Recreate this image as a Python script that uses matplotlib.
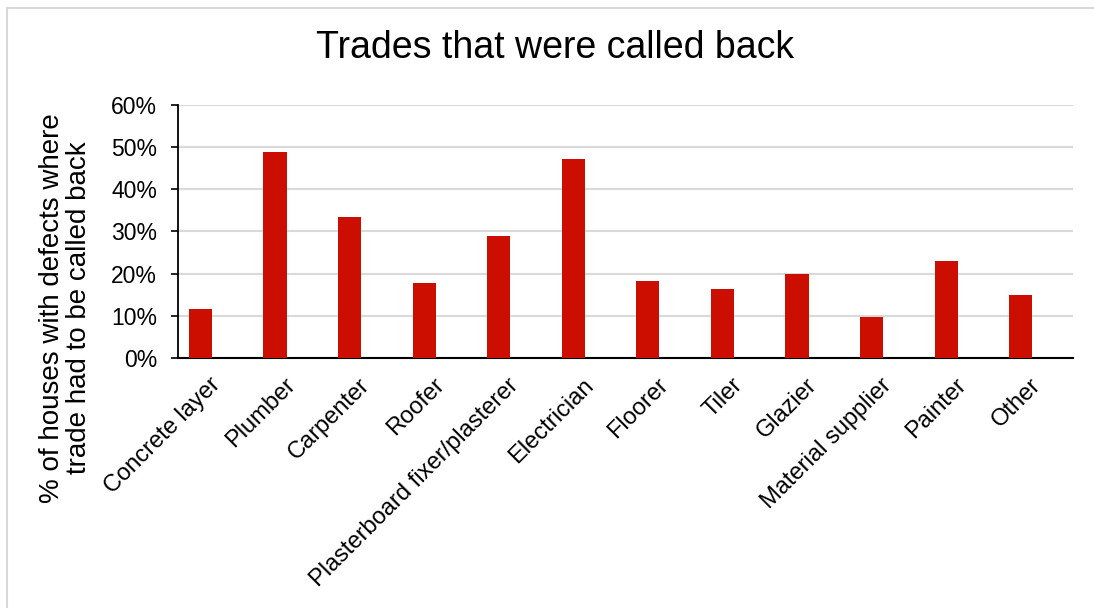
import matplotlib
matplotlib.use("Agg")
import matplotlib.pyplot as plt
import matplotlib.transforms as mtransforms
from matplotlib.patches import Rectangle
from matplotlib.ticker import PercentFormatter

plt.rcParams['font.family'] = ['Liberation Sans', 'DejaVu Sans']

trades = ["Concrete layer", "Plumber", "Carpenter", "Roofer",
          "Plasterboard fixer/plasterer", "Electrician", "Floorer", "Tiler",
          "Glazier", "Material supplier", "Painter", "Other"]
called_back = [11.5, 48.9, 33.3, 17.7, 29.0, 47.1, 18.2, 16.3, 20.0, 9.7, 23.0, 14.9]

W, H = 1094, 608
fig = plt.figure(figsize=(W / 100, H / 100), dpi=100)

# chart-area frame (only top and left edges fall inside the image)
fig.patches.append(Rectangle((7 / W, -0.1), 1.2, 1 - 8 / H + 0.1,
                             transform=fig.transFigure, fill=False,
                             edgecolor="#d9d9d9", linewidth=1.5, zorder=0))

ax = fig.add_axes([178 / W, 1 - 358 / H, 895 / W, (358 - 104.7) / H])

x = list(range(len(trades)))
# bars sit a little left of each category centre
ax.bar([i + 0.3 for i in x], called_back, width=0.31, color="#cc0e00", zorder=3)

ax.set_xlim(0, len(trades))
ax.set_ylim(0, 60)
ax.set_yticks(range(0, 61, 10))
ax.yaxis.set_major_formatter(PercentFormatter(decimals=0))
ax.set_xticks([i + 0.5 for i in x])
ax.set_xticklabels(trades, rotation=45, ha="right", va="top",
                   rotation_mode="anchor", fontsize=17)
ax.tick_params(axis="x", length=0, pad=13)
ax.tick_params(axis="y", length=5, width=1.2, pad=10, labelsize=16.5)

# nudge the slanted labels so their ends line up under the categories
shift = mtransforms.ScaledTranslation(-6 / 100, 2 / 100, fig.dpi_scale_trans)
for lbl in ax.get_xticklabels():
    lbl.set_transform(lbl.get_transform() + shift)

ax.grid(axis="y", color="#d9d9d9", linewidth=1.5, zorder=0)
for s in ("top", "right"):
    ax.spines[s].set_visible(False)
ax.spines["left"].set_linewidth(1.3)
ax.spines["bottom"].set_linewidth(1.5)

fig.text(555 / W, 1 - 48 / H, "Trades that were called back",
         ha="center", va="center", fontsize=27)
fig.text(66 / W, 1 - 308 / H,
         "% of houses with defects where\ntrade had to be called back",
         rotation=90, ha="center", va="center", fontsize=20,
         multialignment="center", linespacing=1.05)

fig.savefig("out.png", dpi=100)
